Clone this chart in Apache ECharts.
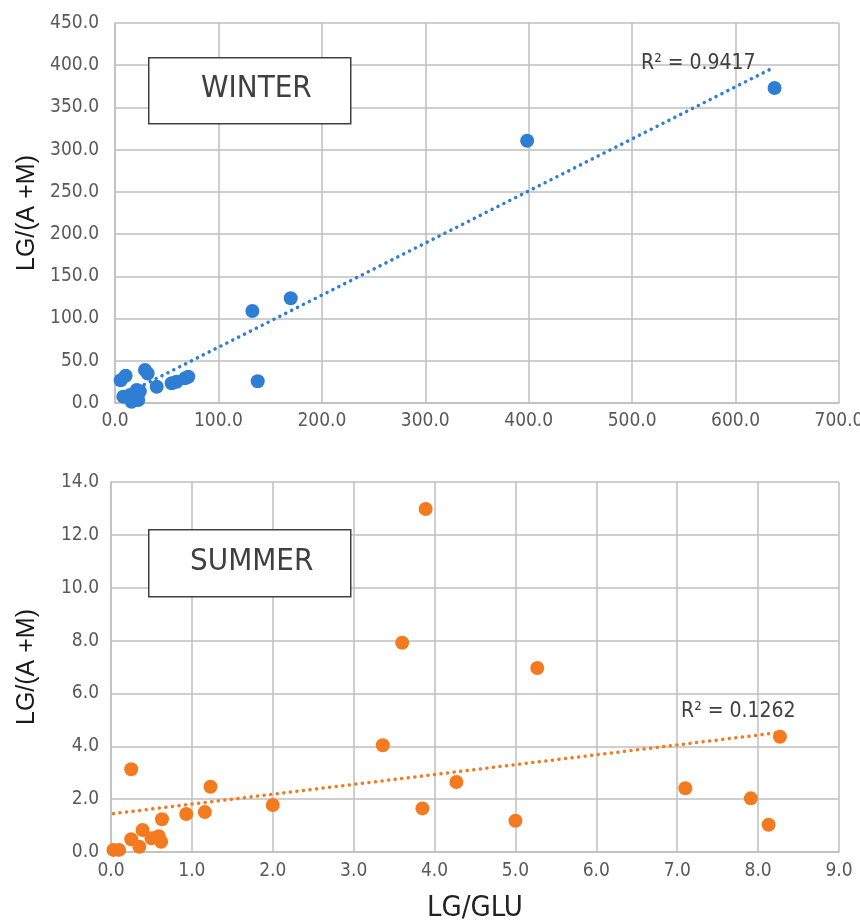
<!DOCTYPE html>
<html><head><meta charset="utf-8">
<script src="https://cdn.jsdelivr.net/npm/echarts@6/dist/echarts.min.js"></script>
<style>html,body{margin:0;padding:0;background:#fff}#c{width:860px;height:923px}</style>
</head><body><div id="c"></div>
<script>
// ---- Data ----
const winterX = [637.7, 398.5, 169.9, 132.8, 138.0, 70.9, 67.7, 59.6, 54.8, 40.3, 29.0, 31.6, 5.5, 10.3, 8.0, 14.5, 21.0, 22.5, 16.0, 24.0, 18.0];
const winterY = [373.0, 310.6, 124.0, 109.0, 25.7, 31.0, 29.2, 25.2, 23.3, 19.3, 39.0, 35.0, 27.0, 32.3, 7.5, 9.5, 15.4, 3.5, 1.5, 14.0, 6.0];
const summerX = [3.89, 3.60, 5.27, 3.36, 8.27, 0.25, 1.23, 4.27, 7.10, 7.91, 8.13, 5.00, 3.85, 2.00, 1.16, 0.93, 0.63, 0.39, 0.25, 0.35, 0.50, 0.59, 0.62, 0.03, 0.10];
const summerY = [12.98, 7.92, 6.96, 4.04, 4.36, 3.13, 2.47, 2.65, 2.41, 2.03, 1.03, 1.18, 1.65, 1.78, 1.51, 1.44, 1.24, 0.83, 0.48, 0.20, 0.52, 0.60, 0.39, 0.08, 0.08];
// Linear trendlines as displayed (slope, intercept) and R² labels
const winterTrend = {slope: 0.617, intercept: 4.3, r2: "R² = 0.9417"};
const summerTrend = {slope: 0.373, intercept: 1.44, r2: "R² = 0.1262"};
const winterLabel = "WINTER";
const summerLabel = "SUMMER";
const yTitle = "LG/(A +M)";
const xTitle = "LG/GLU";

const blue = '#2E7ED3', orange = '#F47A1F';
const grid = '#BFBFBF';
const tickFont = "'Liberation Sans Narrow','DejaVu Sans Condensed','Liberation Sans',sans-serif";

function pairs(xs, ys){ return xs.map((x,i)=>[x, ys[i]]); }
function trend(xs, t){
  const mn = Math.min(...xs), mx = Math.max(...xs);
  return [[mn, t.slope*mn + t.intercept],[mx, t.slope*mx + t.intercept]];
}
const axisCommon = {
  axisLine:{show:true, lineStyle:{color:grid, width:1.5}},
  axisTick:{show:false},
  splitLine:{show:true, lineStyle:{color:grid, width:1.5}},
  axisLabel:{color:'#595959', fontSize:19, fontFamily:tickFont, formatter:v=>v.toFixed(1)}
};
const yTitleStyle = {fontSize:25, color:'#1a1a1a', fontFamily:"'Liberation Sans',Arial,sans-serif"};
const chart = echarts.init(document.getElementById('c'), null, {renderer:'canvas'});
chart.setOption({
  animation:false,
  backgroundColor:'#fff',
  grid:[
    {left:115, top:23, width:724, height:380, containLabel:false, outerBoundsMode:'none'},
    {left:111, top:482, width:728, height:370, containLabel:false, outerBoundsMode:'none'}
  ],
  xAxis:[
    Object.assign({type:'value', gridIndex:0, min:0, max:700, interval:100}, axisCommon,
      {axisLabel:Object.assign({}, axisCommon.axisLabel, {margin:9})}),
    Object.assign({type:'value', gridIndex:1, min:0, max:9, interval:1, name:xTitle, nameLocation:'middle', nameGap:42,
      nameTextStyle:{fontSize:29, color:'#222', fontFamily:tickFont}}, axisCommon,
      {axisLabel:Object.assign({}, axisCommon.axisLabel, {margin:10})})
  ],
  yAxis:[
    Object.assign({type:'value', gridIndex:0, min:0, max:450, interval:50, name:yTitle, nameLocation:'middle', nameGap:75,
      nameTextStyle:yTitleStyle}, axisCommon,
      {axisLabel:Object.assign({}, axisCommon.axisLabel, {margin:16})}),
    Object.assign({type:'value', gridIndex:1, min:0, max:14, interval:2, name:yTitle, nameLocation:'middle', nameGap:71,
      nameTextStyle:yTitleStyle}, axisCommon,
      {axisLabel:Object.assign({}, axisCommon.axisLabel, {margin:12})})
  ],
  series:[
    {type:'line', xAxisIndex:0, yAxisIndex:0, data:trend(winterX, winterTrend), symbol:'none', z:1,
      lineStyle:{color:blue, width:3.5, type:[0.1,6.5], cap:'round'}},
    {type:'scatter', xAxisIndex:0, yAxisIndex:0, data:pairs(winterX, winterY), symbolSize:14, z:3,
      itemStyle:{color:blue, opacity:1}},
    {type:'line', xAxisIndex:1, yAxisIndex:1, data:trend(summerX, summerTrend), symbol:'none', z:1,
      lineStyle:{color:orange, width:3.5, type:[0.1,6.5], cap:'round'}},
    {type:'scatter', xAxisIndex:1, yAxisIndex:1, data:pairs(summerX, summerY), symbolSize:14, z:3,
      itemStyle:{color:orange, opacity:1}}
  ],
  graphic:[
    {type:'rect', left:148, top:57, shape:{width:202, height:66}, style:{fill:'#fff', stroke:'#404040', lineWidth:1.5}, z:10},
    {type:'text', left:201, top:73, style:{text:winterLabel, fontSize:31, fill:'#404040', fontFamily:tickFont}, z:11},
    {type:'rect', left:148, top:529, shape:{width:202, height:67}, style:{fill:'#fff', stroke:'#404040', lineWidth:1.5}, z:10},
    {type:'text', left:190, top:546, style:{text:summerLabel, fontSize:31, fill:'#404040', fontFamily:tickFont}, z:11},
    {type:'text', left:641, top:53, style:{text:winterTrend.r2, fontSize:21, fill:'#404040', fontFamily:tickFont}, z:11},
    {type:'text', left:681, top:701, style:{text:summerTrend.r2, fontSize:21, fill:'#404040', fontFamily:tickFont}, z:11}
  ]
});
</script></body></html>
